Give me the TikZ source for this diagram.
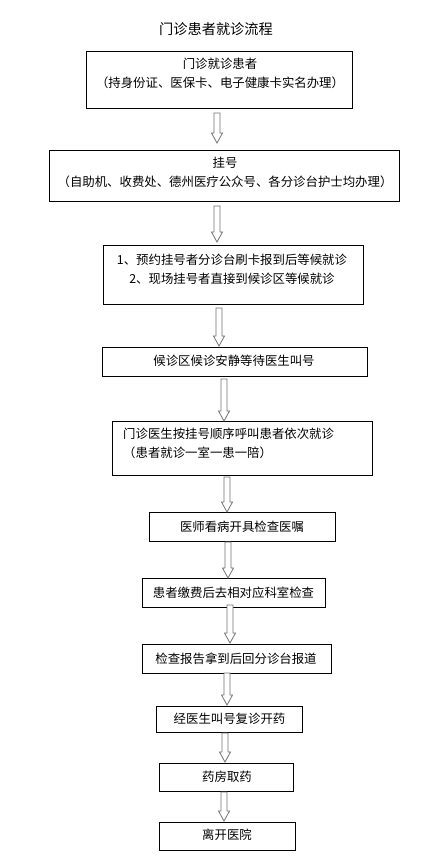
\documentclass[tikz,border=0pt]{standalone}
\usepackage{fontspec}
\newfontfamily\cjk{Noto Sans CJK SC}
\usetikzlibrary{calc}
\tikzset{
  boxnode/.style={draw=black, line width=0.9pt, fill=none, inner sep=0pt},
  txt/.style={inner sep=0pt, align=center, font=\cjk\fontsize{12.4pt}{19pt}\selectfont},
  barrow/.style={draw=black!55, line width=0.8pt, fill=white, line join=miter}
}
\newcommand{\blockarr}[2]{%
  \draw[barrow] ($(#1)+(-3,0)$) -- ($(#2)+(-3,-10)$) -- ($(#2)+(-5.5,-10)$) -- (#2)
    -- ($(#2)+(5.5,-10)$) -- ($(#2)+(3,-10)$) -- ($(#1)+(3,0)$) -- cycle;}
\begin{document}
\begin{tikzpicture}[x=1pt, y=-1pt]
\useasboundingbox[fill=white] (0,0) rectangle (441,865);
\node[inner sep=0pt, font=\cjk\fontsize{14.2pt}{16pt}\selectfont] (title) at (216,29) {门诊患者就诊流程};

\node[boxnode, minimum width=266pt, minimum height=57pt] (b1) at (219,79.5) {};
\node[txt] (t1) at (220,73.5) {门诊就诊患者\\（持身份证、医保卡、电子健康卡实名办理）};

\node[boxnode, minimum width=350pt, minimum height=51pt] (b2) at (224,175.5) {};
\node[txt] (t2) at (225,172.5) {挂号\\（自助机、收费处、德州医疗公众号、各分诊台护士均办理）};

\node[boxnode, minimum width=260pt, minimum height=59pt] (b3) at (233,274.5) {};
\node[txt] (t3) at (232,269.5) {1、预约挂号者分诊台刷卡报到后等候就诊\\2、现场挂号者直接到候诊区等候就诊};

\node[boxnode, minimum width=265pt, minimum height=29pt] (b4) at (234.5,361.5) {};
\node[txt] (t4) at (234,360.5) {候诊区候诊安静等待医生叫号};

\node[boxnode, minimum width=260pt, minimum height=54pt] (b5) at (242,448) {};
\node[txt, align=left, anchor=west] (t5) at (123,443.5) {门诊医生按挂号顺序呼叫患者依次就诊\\（患者就诊一室一患一陪）};

\node[boxnode, minimum width=186pt, minimum height=29pt] (b6) at (242,526.5) {};
\node[txt] (t6) at (242,527) {医师看病开具检查医嘱};

\node[boxnode, minimum width=183pt, minimum height=29pt] (b7) at (233.5,592.5) {};
\node[txt] (t7) at (233.5,592.5) {患者缴费后去相对应科室检查};

\node[boxnode, minimum width=189pt, minimum height=29pt] (b8) at (236.5,658.5) {};
\node[txt] (t8) at (236,658.5) {检查报告拿到后回分诊台报道};

\node[boxnode, minimum width=146pt, minimum height=26pt] (b9) at (229,719) {};
\node[txt] (t9) at (229.5,719) {经医生叫号复诊开药};

\node[boxnode, minimum width=134pt, minimum height=28pt] (b10) at (226,777) {};
\node[txt] (t10) at (227,777) {药房取药};

\node[boxnode, minimum width=136pt, minimum height=28pt] (b11) at (227,836) {};
\node[txt] (t11) at (227,835) {离开医院};

\coordinate (p1) at (217,113); \coordinate (q1) at (217,143);
\coordinate (p2) at (217,206); \coordinate (q2) at (217,242);
\coordinate (p3) at (219,308); \coordinate (q3) at (219,346);
\coordinate (p4) at (224,379); \coordinate (q4) at (224,421);
\coordinate (p5) at (227,477); \coordinate (q5) at (227,512);
\coordinate (p6) at (228,542); \coordinate (q6) at (228,578);
\coordinate (p7) at (230,605); \coordinate (q7) at (230,643);
\coordinate (p8) at (227,673); \coordinate (q8) at (227,705);
\coordinate (p9) at (225,733); \coordinate (q9) at (225,762);
\coordinate (p10) at (224,792); \coordinate (q10) at (224,821);
\foreach \i in {1,...,10} {\blockarr{p\i}{q\i}}
\end{tikzpicture}
\end{document}
